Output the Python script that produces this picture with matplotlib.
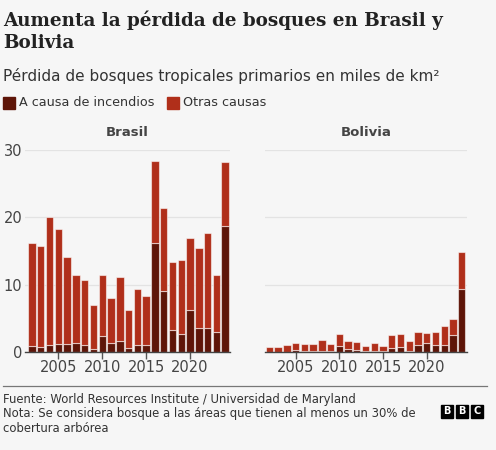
import matplotlib.pyplot as plt

# ___DATA___ #
years = list(range(2002, 2025))

brasil_total = [16.2, 15.7, 20.1, 18.2, 14.1, 11.5, 10.7, 7.0, 11.5, 8.0, 11.2, 6.3,
                9.4, 8.3, 28.3, 21.4, 13.4, 13.6, 17.0, 15.5, 17.7, 11.4, 28.2]
brasil_fire = [0.9, 0.8, 1.0, 1.2, 1.2, 1.3, 1.0, 0.5, 2.4, 1.3, 1.6, 0.6,
               1.0, 1.1, 16.2, 9.0, 3.2, 2.7, 6.2, 3.6, 3.5, 2.9, 18.7]

bolivia_total = [0.75, 0.8, 1.0, 1.4, 1.25, 1.2, 1.8, 1.15, 2.7, 1.7, 1.5, 0.9,
                 1.4, 0.9, 2.5, 2.7, 1.6, 3.0, 2.8, 3.0, 3.9, 4.9, 14.8]
bolivia_fire = [0.05, 0.05, 0.05, 0.3, 0.1, 0.1, 0.2, 0.1, 0.9, 0.5, 0.3, 0.1,
                0.2, 0.1, 0.6, 0.7, 0.15, 1.0, 1.3, 1.1, 1.1, 2.5, 9.3]

yticks = [0, 10, 20, 30]
xticks = [2005, 2010, 2015, 2020]

# ___STYLE___ #
BG = "#f6f6f6"
FIRE = "#5e1508"
OTHER = "#b02f1a"
EDGE = (1, 1, 1, 0.55)
TEXT = "#222222"
W, H = 496, 450

fig = plt.figure(figsize=(W / 100, H / 100), dpi=100, facecolor=BG)


def px_axes(left, top, right, bottom):
    # pixel box -> figure fraction
    return fig.add_axes([left / W, 1 - bottom / H, (right - left) / W, (bottom - top) / H])


def draw_panel(ax, fire, total, name, xlim, show_y):
    other = [t - f for t, f in zip(total, fire)]
    ax.set_facecolor(BG)
    ax.bar(years, fire, width=0.84, color=FIRE, edgecolor=EDGE, linewidth=0.8, zorder=3)
    ax.bar(years, other, bottom=fire, width=0.84, color=OTHER, edgecolor=EDGE,
           linewidth=0.8, zorder=3)
    ax.set_xlim(*xlim)
    ax.set_ylim(0, 30)
    ax.set_yticks(yticks)
    ax.grid(axis="y", color="#e3e3e3", linewidth=0.9, zorder=0)
    for s in ["top", "right", "left"]:
        ax.spines[s].set_visible(False)
    ax.spines["bottom"].set_color("#444444")
    ax.spines["bottom"].set_linewidth(1.0)
    ax.spines["bottom"].set_zorder(4)
    ax.set_xticks(xticks)
    ax.tick_params(axis="x", length=5, width=1, color="#555555", labelsize=10.5,
                   labelcolor="#444444", pad=1)
    ax.tick_params(axis="y", length=0, labelsize=10.5, labelcolor="#444444", pad=2)
    if not show_y:
        ax.set_yticklabels([])
    ax.set_title(name, fontsize=9.5, fontweight="bold", color="#444444", pad=10)


axB = px_axes(25, 150, 230, 352)
draw_panel(axB, brasil_fire, brasil_total, "Brasil", (2001.2, 2024.55), True)
axV = px_axes(265, 150, 467, 352)
draw_panel(axV, bolivia_fire, bolivia_total, "Bolivia", (2001.5, 2024.6), False)

# ___TEXT___ #
fig.text(3 / W, 1 - 10 / H, "Aumenta la pérdida de bosques en Brasil y\nBolivia",
         family="DejaVu Serif", fontweight="bold", fontsize=13.2, color=TEXT,
         va="top", ha="left", linespacing=1.3)
fig.text(3 / W, 1 - 76 / H, "Pérdida de bosques tropicales primarios en miles de km²",
         fontsize=11.0, color="#333333", va="center", ha="left")

# legend squares + labels
fig.patches.append(plt.Rectangle((3 / W, 1 - 109 / H), 12 / W, 12 / H, color=FIRE,
                                 transform=fig.transFigure, figure=fig))
fig.text(19 / W, 1 - 103 / H, "A causa de incendios", fontsize=9.2, color="#333333",
         va="center", ha="left")
fig.patches.append(plt.Rectangle((167 / W, 1 - 109 / H), 12 / W, 12 / H, color=OTHER,
                                 transform=fig.transFigure, figure=fig))
fig.text(183 / W, 1 - 103 / H, "Otras causas", fontsize=9.2, color="#333333",
         va="center", ha="left")

# footer
fig.add_artist(plt.Line2D([3 / W, 487 / W], [1 - 386 / H, 1 - 386 / H],
                          color="#777777", linewidth=0.9))
fig.text(3 / W, 1 - 393 / H,
         "Fuente: World Resources Institute / Universidad de Maryland\n"
         "Nota: Se considera bosque a las áreas que tienen al menos un 30% de\n"
         "cobertura arbórea",
         fontsize=8.4, color="#333333", va="top", ha="left", linespacing=1.15)

# BBC blocks
for i, letter in enumerate("BBC"):
    x0 = 441 + i * 15
    fig.patches.append(plt.Rectangle((x0 / W, 1 - 418 / H), 12 / W, 13 / H, color="black",
                                     transform=fig.transFigure, figure=fig))
    fig.text((x0 + 6) / W, 1 - 411.5 / H, letter, color="white", fontsize=7,
             fontweight="bold", ha="center", va="center")

fig.savefig("out.png", dpi=100, facecolor=BG)
